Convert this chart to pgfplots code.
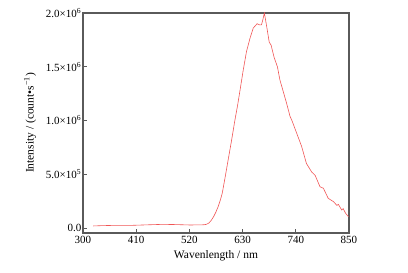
\documentclass[border=0pt]{standalone}
\usepackage{fontspec}
\setmainfont{Liberation Serif}
\usepackage{pgfplots}
\pgfplotsset{compat=1.18}
\definecolor{axgray}{RGB}{90,90,90}
\definecolor{curvered}{RGB}{240,85,85}
\begin{document}
\begin{tikzpicture}
\path[use as bounding box] (-83pt,-40pt) rectangle (325pt,233pt);
\begin{axis}[
  at={(0,0)}, anchor=south west,
  scale only axis,
  width=266pt, height=220pt,
  xmin=300, xmax=850,
  ymin=-46500, ymax=2000000,
  xtick={300,410,520,630,740,850},
  xticklabels={300,410,520,630,740,850},
  ytick={0,500000,1000000,1500000,2000000},
  yticklabels={0.0,5.0×10\textsuperscript{5},1.0×10\textsuperscript{6},1.5×10\textsuperscript{6},2.0×10\textsuperscript{6}},
  scaled ticks=false,
  tick align=inside,
  xtick pos=bottom, ytick pos=left,
  major tick length=4pt,
  axis line style={draw=axgray, line width=1.1pt},
  tick style={draw=axgray, line width=0.8pt},
  ticklabel style={font=\fontsize{11}{13}\selectfont},
  yticklabel style={inner sep=1.5pt},
  xlabel={Wavenlength / nm},
  ylabel={Intensity / (count•s\textsuperscript{−1})},
  label style={font=\fontsize{11.5}{13}\selectfont},
  xlabel style={at={(axis description cs:0.5,-0.118)}, anchor=base},
  ylabel style={at={(axis description cs:-0.199,0.5)}, anchor=center, rotate=0},
]
\addplot[color=curvered, line width=0.6pt, mark=none] coordinates {
(321,19000)(340,22000)(360,24000)(380,24000)(403,25000)(430,29000)
(465,34000)(490,32000)(521,28000)(540,29000)(550,30000)(555,34000)
(560,45000)(565,70000)(570,105000)(575,150000)(580,205000)(584,260000)
(588,325000)(594,475000)(600,630000)(607,810000)(614,1000000)
(620,1150000)(625,1290000)(631,1460000)(638,1640000)(645,1760000)
(652,1860000)(656,1880000)(660,1900000)(665,1890000)(669,1890000)
(671.5,1930000)(675,2000000)
(680,1870000)(685,1730000)(689,1700000)(695,1590000)(702,1500000)
(707,1380000)(714,1270000)(721,1160000)(728,1040000)(732,1000000)
(742,880000)(752,760000)(762,600000)(773,520000)(780,490000)
(790,384000)(797,370000)(807,276000)(818,245000)(825,210000)
(828,220000)(835,167000)(838,180000)(843,137000)(849,105000)
};
\end{axis}
\end{tikzpicture}
\end{document}
